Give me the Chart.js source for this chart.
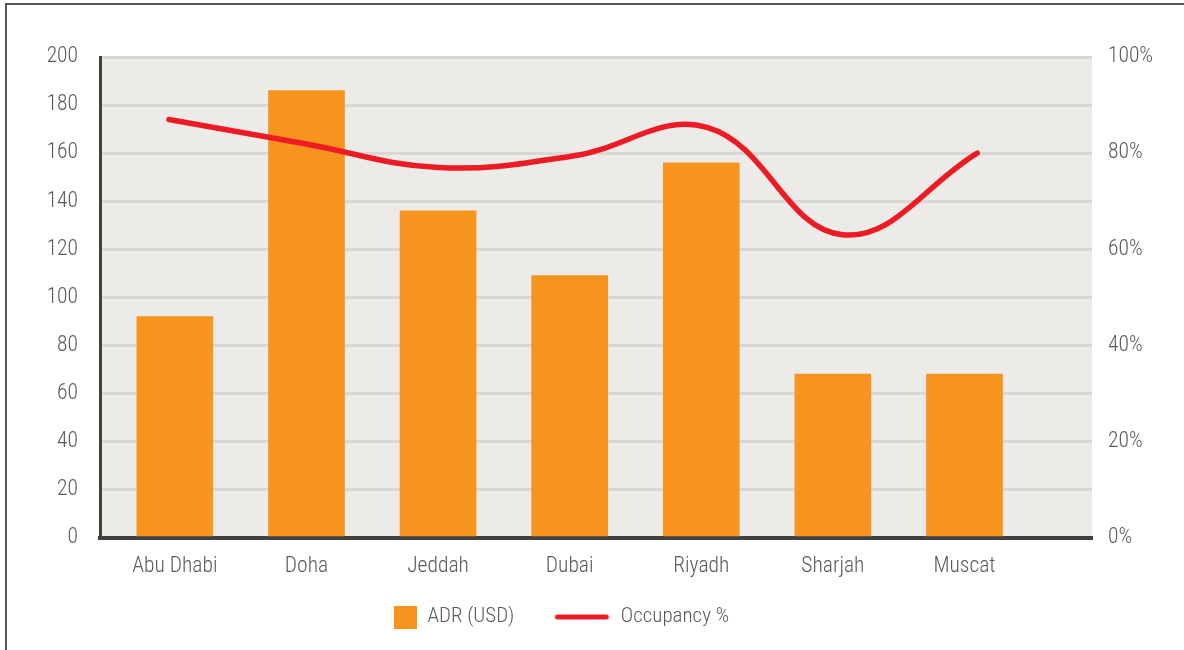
<!DOCTYPE html>
<html>
<head>
<meta charset="utf-8">
<script src="https://cdn.jsdelivr.net/npm/chart.js@4"></script>
<style>
  html, body { margin: 0; padding: 0; background: #fff; overflow: hidden; }
  #frame { position: absolute; left: 5px; top: 3px; width: 1300px; height: 800px;
           border-top: 2px solid #555; border-left: 2px solid #555; }
  #wrap { position: absolute; left: 0; top: 0; width: 1184px; height: 650px; }
</style>
</head>
<body>
<div id="frame"></div>
<div id="wrap"><canvas id="hotelChart" width="1184" height="650"></canvas></div>
<script>
const cities = ['Abu Dhabi', 'Doha', 'Jeddah', 'Dubai', 'Riyadh', 'Sharjah', 'Muscat'];
const adrUsd = [92, 186, 136, 109, 156, 68, 68];
const occupancy = [87, 82, 77, 79.4, 85.3, 63, 80];
const adrTicks = [0, 20, 40, 60, 80, 100, 120, 140, 160, 180, 200];
const occTicks = [0, 20, 40, 60, 80, 100];

const orange = '#f7941d';
const red = '#ed1c24';
const textGrey = '#595959';

Chart.defaults.font.family = "'Roboto Condensed', 'Liberation Sans', sans-serif";
Chart.defaults.font.size = 21.5;
Chart.defaults.font.weight = 300;
Chart.defaults.color = textGrey;

// legend icons (drawn at the right end of an 86px wide box)
const makeIcon = (draw) => {
  const c = document.createElement('canvas');
  c.width = 86;
  c.height = 24;
  draw(c.getContext('2d'));
  return c;
};
const squareIcon = makeIcon(g => { g.fillStyle = orange; g.fillRect(63, 1, 23, 23); });
const lineIcon = makeIcon(g => {
  g.strokeStyle = red; g.lineWidth = 5; g.lineCap = 'round';
  g.beginPath(); g.moveTo(33, 12); g.lineTo(82, 12); g.stroke();
});

const plotBackground = {
  id: 'plotBackground',
  beforeDraw(chart) {
    const { ctx, chartArea: a } = chart;
    ctx.save();
    ctx.fillStyle = '#ecebe8';
    ctx.fillRect(a.left, a.top, a.right - a.left, a.bottom - a.top);
    ctx.restore();
  }
};

// legend sits left of centre in the original
const legendShift = {
  id: 'legendShift',
  afterLayout(chart) {
    chart.legend.left -= 62;
    chart.legend.right -= 62;
  }
};

const ctx = document.getElementById('hotelChart').getContext('2d');
const chart = new Chart(ctx, {
  type: 'bar',
  data: {
    datasets: [
      {
        type: 'line',
        label: 'Occupancy %',
        data: occupancy.map((v, i) => ({ x: i, y: v })),
        xAxisID: 'x2',
        yAxisID: 'y1',
        borderColor: red,
        borderWidth: 5.5,
        borderCapStyle: 'round',
        pointRadius: 0,
        tension: 0.4,
        order: 0
      },
      {
        type: 'bar',
        label: 'ADR (USD)',
        data: adrUsd.map((v, i) => ({ x: i, y: v })),
        xAxisID: 'x',
        yAxisID: 'y',
        backgroundColor: orange,
        barThickness: 76,
        grouped: false,
        order: 1
      }
    ]
  },
  options: {
    responsive: false,
    animation: false,
    layout: { padding: { top: 57, left: 0, right: 0, bottom: 12.5 } },
    plugins: {
      tooltip: { enabled: false },
      legend: {
        position: 'bottom',
        labels: {
          usePointStyle: true,
          pointStyleWidth: 86,
          padding: 10,
          color: textGrey,
          font: { size: 21 },
          generateLabels: () => [
            { text: 'ADR (USD)', pointStyle: squareIcon, fillStyle: orange, strokeStyle: orange, lineWidth: 0, datasetIndex: 1, fontColor: textGrey },
            { text: 'Occupancy %', pointStyle: lineIcon, fillStyle: red, strokeStyle: red, lineWidth: 0, datasetIndex: 0, fontColor: textGrey }
          ]
        }
      }
    },
    scales: {
      x: {
        type: 'linear',
        position: 'bottom',
        offset: false,
        min: -0.569,
        max: 6.969,
        grid: { display: false, drawTicks: false },
        border: { display: true, color: '#404040', width: 4 },
        afterBuildTicks: s => { s.ticks = cities.map((c, i) => ({ value: i })); },
        afterFit: s => { s.height = 59; },
        ticks: {
          autoSkip: false,
          maxRotation: 0,
          padding: 16,
          callback: v => cities[v]
        }
      },
      x2: {
        type: 'linear',
        display: false,
        offset: false,
        min: -0.512,
        max: 6.852
      },
      y: {
        position: 'left',
        min: 0,
        max: 200,
        afterBuildTicks: s => { s.ticks = adrTicks.map(v => ({ value: v })); },
        afterFit: s => { s.width = 100; },
        grid: { color: '#d9d8d4', lineWidth: 3, drawTicks: false },
        border: { display: true, color: '#404040', width: 3 },
        ticks: { padding: 22 }
      },
      y1: {
        position: 'right',
        min: 0,
        max: 100,
        afterBuildTicks: s => { s.ticks = occTicks.map(v => ({ value: v })); },
        afterFit: s => { s.width = 92; },
        grid: { display: false, drawTicks: false },
        border: { display: false },
        ticks: { padding: 16, callback: v => v + '%' }
      }
    }
  },
  plugins: [plotBackground, legendShift]
});
</script>
</body>
</html>
